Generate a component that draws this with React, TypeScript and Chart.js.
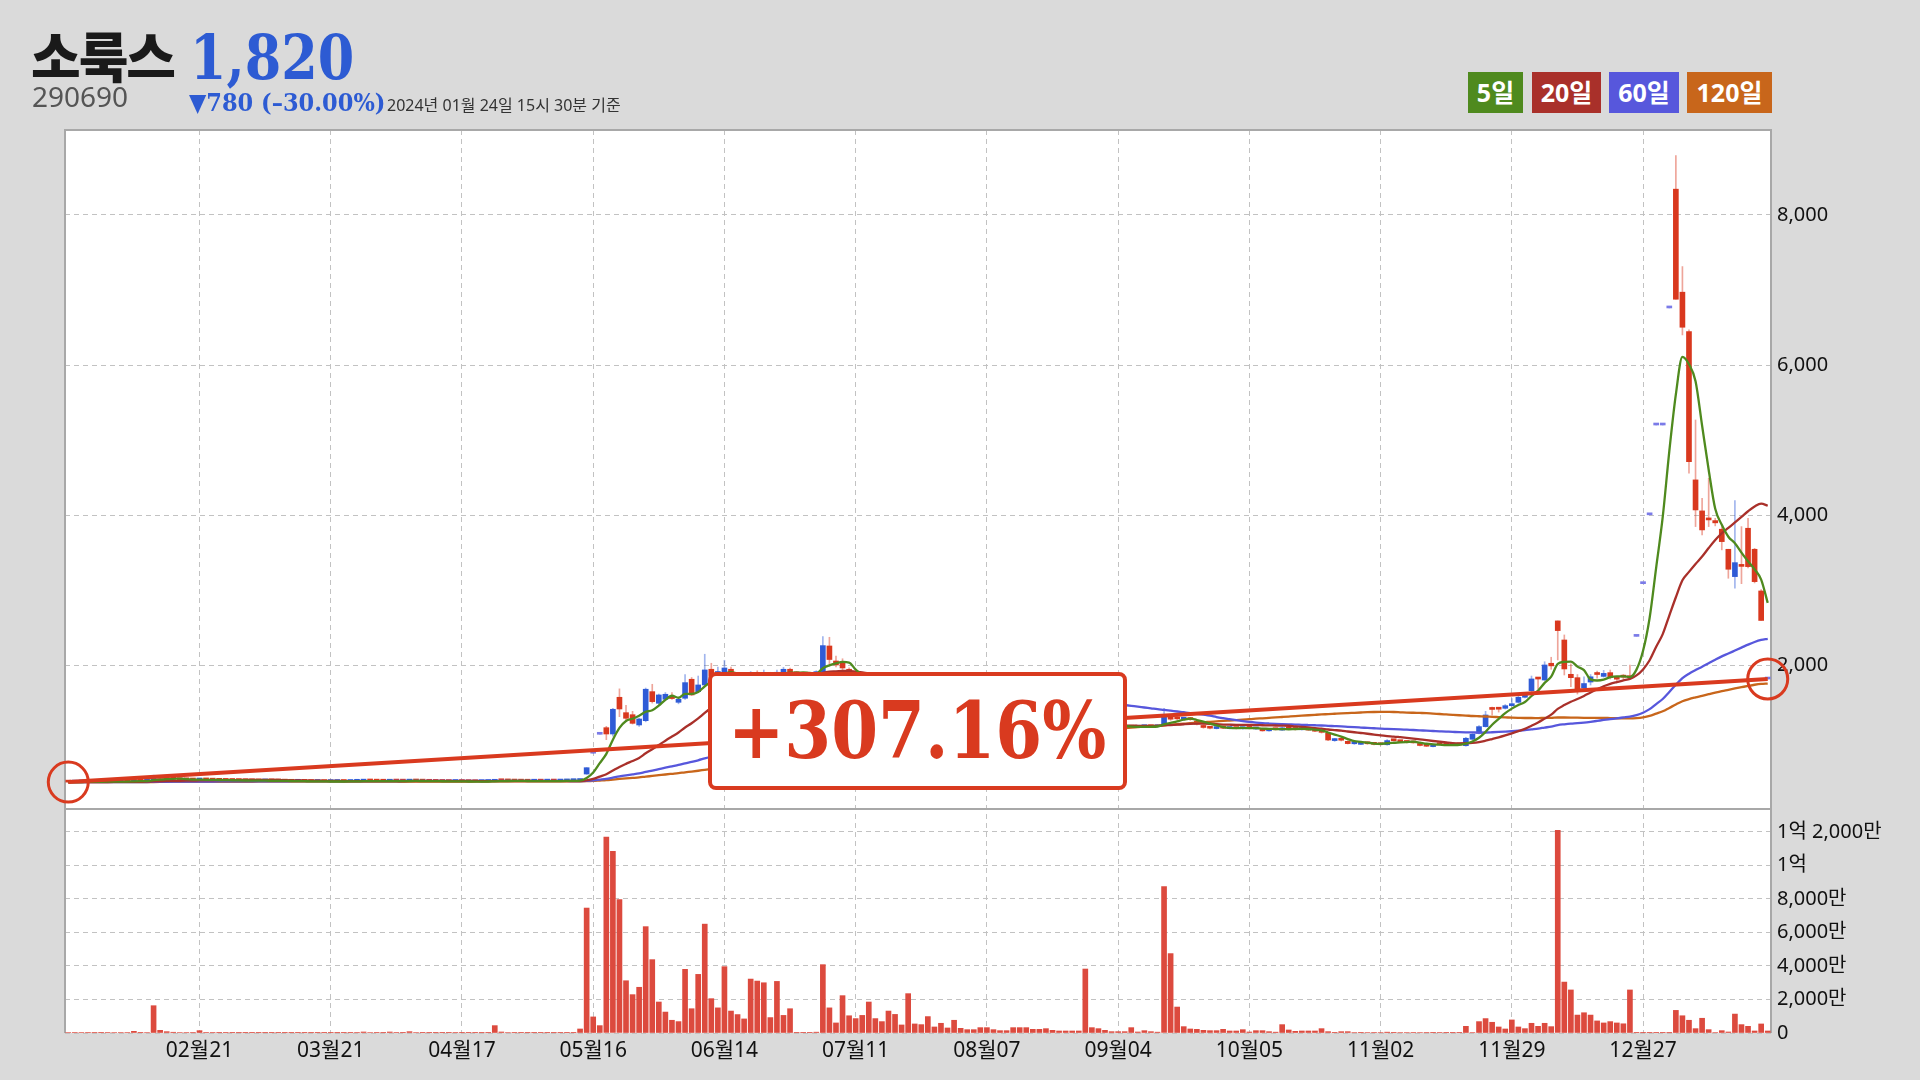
import React, { useEffect, useRef } from 'react';
import { Chart, registerables } from 'chart.js';

Chart.register(...registerables);

// ---------------- data ----------------
const stockName = '소룩스';
const stockCode = '290690';
const asOfText = '2024년 01월 24일 15시 30분 기준';

const tickLabelAt: Record<number, string> = {
  20: '02월21', 40: '03월21', 60: '04월17', 80: '05월16', 100: '06월14', 120: '07월11',
  140: '08월07', 160: '09월04', 180: '10월05', 200: '11월02', 220: '11월29', 240: '12월27',
};

const opens = [
  450,447,450,452,455,453,451,454,456,458,
  457,466,461,463,518,500,490,484,480,478,
  475,482,476,473,471,470,469,468,466,465,
  463,466,464,462,460,458,459,457,455,456,
  454,455,457,455,458,460,465,462,460,459,
  463,461,460,466,462,460,458,457,456,455,
  457,455,454,453,455,458,470,465,463,461,
  460,459,461,460,462,461,463,466,468,555,
  832,1084,1172,1088,1577,1372,1345,1208,1265,1652,
  1497,1550,1590,1510,1564,1817,1652,1741,1950,1860,
  1900,1950,1880,1840,1810,1900,1850,1890,1860,1900,
  1950,1910,1890,1880,1870,1918,2260,2060,2040,1950,
  1880,1790,1690,1560,1480,1420,1380,1330,1300,1370,
  1320,1290,1300,1270,1260,1250,1280,1260,1250,1232,
  1240,1230,1220,1210,1200,1210,1200,1185,1192,1200,
  1190,1178,1182,1172,1168,1180,1290,1250,1220,1200,
  1190,1178,1182,1178,1185,1190,1185,1208,1300,1300,
  1285,1295,1260,1200,1180,1160,1180,1160,1172,1158,
  1172,1155,1160,1130,1155,1140,1170,1155,1145,1158,
  1142,1140,1097,1000,1015,990,958,950,968,958,
  952,945,1002,995,990,975,950,935,920,950,
  945,938,945,932,1018,1097,1186,1425,1425,1430,
  1465,1510,1577,1665,1825,1807,2030,2594,2340,1883,
  1838,1700,1780,1885,1855,1905,1825,1860,1855,2388,
  3090,4007,5203,5203,6762,8344,6972,6447,4472,4059,
  3950,3930,3815,3548,3184,3340,3828,3548,2993,1820,
];

const highs = [
  455,452,456,458,460,457,456,459,462,463,
  470,470,466,540,528,505,494,488,484,482,
  490,485,480,477,475,474,473,472,470,469,
  468,470,468,466,464,462,463,461,459,460,
  458,459,461,460,463,470,468,466,464,470,
  466,465,472,469,466,464,462,461,460,460,
  461,459,458,457,460,480,474,469,467,465,
  464,463,465,464,466,466,468,470,480,640,
  832,1084,1190,1430,1689,1470,1390,1300,1700,1750,
  1620,1640,1640,1560,1880,1840,1860,2150,2030,1980,
  2070,1980,1900,1860,1920,1930,1940,1910,1940,1975,
  1965,1920,1900,1890,1930,2385,2376,2125,2090,1970,
  1900,1810,1720,1600,1510,1460,1400,1350,1420,1390,
  1335,1340,1310,1285,1270,1300,1285,1265,1255,1260,
  1250,1240,1230,1215,1230,1220,1210,1200,1215,1205,
  1195,1190,1185,1178,1185,1360,1310,1260,1230,1205,
  1195,1190,1195,1190,1200,1195,1210,1430,1340,1320,
  1310,1305,1270,1210,1185,1185,1190,1180,1178,1180,
  1178,1175,1165,1160,1160,1185,1175,1160,1165,1162,
  1150,1145,1105,1030,1025,998,972,978,975,962,
  958,1015,1010,1000,995,980,958,940,955,955,
  950,950,950,1045,1095,1200,1390,1445,1440,1480,
  1560,1610,1640,1860,1830,2050,2110,2594,2407,2021,
  1880,1850,1880,1925,1935,1940,1830,1880,2007,2388,
  3090,4007,5203,5203,6762,8790,7313,6470,5270,4228,
  4494,3960,3850,3548,4196,3850,3960,3560,3010,1820,
];

const lows = [
  445,444,447,449,451,449,448,451,452,454,
  455,458,457,460,495,486,480,476,474,472,
  472,474,470,468,467,466,465,464,462,461,
  460,462,460,458,456,455,455,453,452,452,
  451,452,453,452,455,457,459,458,456,456,
  458,457,457,460,458,456,454,453,452,452,
  453,451,450,449,452,455,462,460,459,457,
  456,455,457,456,458,458,460,462,465,550,
  832,1084,1012,1060,1319,1280,1220,1190,1250,1500,
  1480,1540,1550,1490,1550,1600,1640,1720,1840,1830,
  1880,1860,1810,1800,1800,1840,1840,1850,1850,1890,
  1900,1880,1870,1860,1860,1900,2000,1980,1940,1850,
  1780,1680,1540,1460,1400,1360,1310,1290,1290,1310,
  1280,1280,1260,1250,1240,1245,1250,1240,1230,1230,
  1220,1210,1200,1190,1195,1190,1180,1180,1185,1185,
  1175,1172,1165,1162,1165,1175,1240,1210,1195,1185,
  1175,1172,1170,1172,1180,1178,1180,1200,1270,1280,
  1275,1270,1210,1165,1155,1155,1160,1155,1155,1150,
  1155,1150,1125,1125,1140,1135,1150,1140,1140,1135,
  1120,1100,1000,990,995,955,950,945,950,942,
  940,940,990,980,970,965,930,920,915,940,
  935,935,935,925,1010,1090,1180,1340,1380,1420,
  1460,1500,1570,1650,1690,1800,1950,2074,1874,1718,
  1620,1660,1740,1830,1845,1820,1800,1820,1830,2388,
  3090,4007,5203,5203,6762,6878,6403,4560,3850,3739,
  3850,3860,3540,3162,3029,3090,3300,3100,2600,1820,
];

const closes = [
  447,450,452,455,453,451,454,456,458,457,
  466,461,463,520,500,490,484,480,478,475,
  482,476,473,471,470,469,468,466,465,463,
  466,464,462,460,458,459,457,455,456,454,
  455,457,455,458,460,465,462,460,459,463,
  461,460,466,462,460,458,457,456,455,457,
  455,454,453,455,458,470,465,463,461,460,
  459,461,460,462,461,463,466,468,475,639,
  832,1084,1088,1417,1421,1297,1230,1288,1684,1519,
  1608,1617,1560,1550,1772,1608,1741,1941,1857,1920,
  1967,1880,1840,1820,1890,1850,1900,1860,1910,1950,
  1910,1890,1880,1870,1918,2265,2080,2007,1967,1880,
  1800,1700,1560,1480,1420,1380,1330,1300,1380,1320,
  1290,1300,1270,1260,1250,1280,1260,1250,1240,1240,
  1230,1220,1210,1200,1210,1200,1190,1192,1200,1190,
  1180,1182,1170,1168,1180,1300,1250,1220,1200,1190,
  1180,1182,1178,1185,1190,1185,1200,1319,1285,1290,
  1295,1280,1220,1175,1165,1175,1165,1170,1160,1172,
  1162,1168,1130,1155,1145,1170,1155,1148,1158,1140,
  1125,1110,1008,1020,1005,960,965,970,958,950,
  945,1000,998,985,975,970,935,925,950,945,
  940,945,942,1031,1084,1186,1341,1415,1418,1465,
  1490,1577,1617,1821,1820,2007,1995,2465,1954,1838,
  1674,1760,1850,1880,1895,1838,1818,1845,1837,2388,
  3090,4007,5203,5203,6762,6878,6505,4715,4072,3806,
  3939,3900,3650,3282,3370,3320,3317,3117,2600,1820,
];

// volume, in 만주 (10,000 shares)
const volumes = [
  30,25,28,35,22,20,26,30,32,28,
  100,40,30,1630,160,80,45,30,28,25,
  140,35,25,20,22,18,20,15,18,16,
  20,18,15,14,16,14,12,15,14,12,
  15,18,16,20,25,60,30,22,20,60,
  25,20,80,30,20,18,15,14,15,25,
  18,15,14,16,20,440,60,30,22,18,
  15,16,14,15,14,16,18,20,240,7460,
  960,440,11700,10850,7960,3120,2290,2730,6350,4380,
  1850,1250,760,680,3800,1450,3500,6500,2050,1500,
  3960,1310,1100,840,3220,3100,3000,920,3080,1050,
  1450,40,20,20,50,4080,1500,600,2230,1030,
  860,1050,1850,860,680,1310,1110,480,2350,540,
  500,980,360,580,300,760,280,200,200,320,
  320,200,140,140,320,320,320,220,220,260,
  160,120,120,120,120,3820,320,260,160,80,
  80,80,320,60,140,80,50,8740,4740,1550,
  380,240,220,160,140,140,220,120,120,200,
  60,140,140,80,50,500,180,100,120,120,
  120,260,80,40,80,80,30,40,30,25,
  30,50,40,30,30,25,30,25,40,25,
  20,20,20,400,30,680,860,640,360,240,
  780,360,260,580,400,580,380,12100,3040,2570,
  1070,1210,1070,720,600,680,600,550,2570,10,
  10,10,10,10,10,1350,1030,760,260,880,
  200,30,140,60,1130,500,400,120,540,120,
];

const maPeriods = [5, 20, 60, 120];
const maLabels = ['5일', '20일', '60일', '120일'];
const maColors = ['#4f8a1e', '#a9302a', '#5757dc', '#c8661b'];

const priceTicks = [2000, 4000, 6000, 8000];
const volumeTicks = [0, 2000, 4000, 6000, 8000, 10000, 12000];

// axis ranges of the two stacked panels
const PRICE_MIN = 89;
const PRICE_MAX = 9132;
const VOL_MAX = 13373;
const PRICE_PANEL_WEIGHT = 679;
const VOL_PANEL_WEIGHT = 224;

// ---------------- styles ----------------
const UP = '#2f5bd6';
const DOWN = '#d9381e';
const FLAT = '#7b7be8';
const UP_WICK = 'rgba(47,91,214,0.45)';
const DOWN_WICK = 'rgba(217,56,30,0.45)';
const VOL_COLOR = '#dc4a3e';
const TREND = '#d93a1f';
const GRID = '#c2c2c2';
const SANS = "'Noto Sans', 'Noto Sans CJK KR', sans-serif";
const SERIF = "'DejaVu Serif Condensed', 'DejaVu Serif', serif";

function movingAverage(series: number[], period: number): number[] {
  return series.map((_, i) => {
    let sum = 0;
    for (let j = i - period + 1; j <= i; j++) sum += series[Math.max(j, 0)];
    return sum / period;
  });
}

function formatVolume(v: number): string {
  if (v === 0) return '0';
  const eok = Math.floor(v / 10000);
  const man = v % 10000;
  const parts: string[] = [];
  if (eok) parts.push(`${eok}억`);
  if (man) parts.push(`${man.toLocaleString('en-US')}만`);
  return parts.join(' ');
}

const framePlugin = {
  id: 'panelFrame',
  beforeDraw(chart: any) {
    const { ctx, chartArea: a } = chart;
    ctx.save();
    ctx.fillStyle = '#ffffff';
    ctx.fillRect(a.left, a.top, a.right - a.left, a.bottom - a.top);
    ctx.restore();
  },
  beforeDatasetsDraw(chart: any) {
    const { ctx, chartArea: a, scales } = chart;
    const sepY = scales.yv.top;
    ctx.save();
    ctx.strokeStyle = '#a8a8a8';
    ctx.lineWidth = 2;
    ctx.beginPath();
    ctx.moveTo(a.left, a.bottom);
    ctx.lineTo(a.left, a.top);
    ctx.lineTo(a.right, a.top);
    ctx.lineTo(a.right, a.bottom);
    ctx.stroke();
    ctx.beginPath();
    ctx.moveTo(a.left, sepY);
    ctx.lineTo(a.right, sepY);
    ctx.stroke();
    ctx.restore();
  },
};

export default function App() {
  const canvasRef = useRef<HTMLCanvasElement | null>(null);

  const n = closes.length;
  const last = closes[n - 1];
  const prev = closes[n - 2];
  const diff = last - prev;
  const diffPct = (diff / prev) * 100;
  const periodPct = (last / closes[0] - 1) * 100;

  useEffect(() => {
    if (!canvasRef.current) return;
    const labels = closes.map((_, i) => String(i));
    const bodyData = opens.map((o, i) => [o, closes[i]]);
    const wickData = lows.map((l, i) => [l, highs[i]]);
    const bodyColors = opens.map((o, i) => (closes[i] > o ? UP : closes[i] < o ? DOWN : FLAT));
    const wickColors = opens.map((o, i) => (closes[i] >= o ? UP_WICK : DOWN_WICK));
    const trendData = closes.map((c, i) => (i === 0 || i === n - 1 ? c : null));

    const maSets = maPeriods.map((p, k) => ({
      type: 'line' as const,
      label: maLabels[k],
      data: movingAverage(closes, p),
      borderColor: maColors[k],
      borderWidth: 2.3,
      pointRadius: 0,
      cubicInterpolationMode: 'monotone' as const,
      yAxisID: 'y',
      order: 4 + k,
    }));

    const chart = new Chart(canvasRef.current, {
      type: 'bar',
      data: {
        labels,
        datasets: [
          {
            type: 'bar',
            label: 'volume',
            data: volumes,
            backgroundColor: VOL_COLOR,
            barThickness: 5,
            grouped: false,
            yAxisID: 'yv',
            order: 12,
          } as any,
          {
            type: 'bar',
            label: 'wick',
            data: wickData,
            backgroundColor: wickColors,
            barThickness: 1,
            grouped: false,
            yAxisID: 'y',
            order: 11,
          } as any,
          {
            type: 'bar',
            label: 'body',
            data: bodyData,
            backgroundColor: bodyColors,
            barThickness: 5,
            minBarLength: 2,
            grouped: false,
            yAxisID: 'y',
            order: 10,
          } as any,
          ...maSets,
          {
            type: 'line',
            label: 'trend',
            data: trendData,
            borderColor: TREND,
            borderWidth: 4,
            spanGaps: true,
            pointRadius: (ctx: any) => (ctx.raw == null ? 0 : 20),
            pointBorderWidth: 3,
            pointBorderColor: TREND,
            pointBackgroundColor: 'rgba(0,0,0,0)',
            clip: false,
            yAxisID: 'y',
            order: 1,
          } as any,
        ],
      },
      options: {
        animation: false,
        responsive: false,
        devicePixelRatio: 1,
        events: [],
        layout: { padding: { left: 65, top: 130, right: 0, bottom: 0 } },
        plugins: { legend: { display: false }, tooltip: { enabled: false } },
        scales: {
          x: {
            type: 'category',
            offset: true,
            grid: {
              offset: false,
              drawTicks: false,
              lineWidth: 1,
              color: (ctx: any) => (tickLabelAt[ctx.index] ? GRID : 'rgba(0,0,0,0)'),
            },
            border: { display: false, dash: [5, 4] },
            ticks: {
              autoSkip: false,
              maxRotation: 0,
              minRotation: 0,
              padding: 5,
              color: '#111',
              font: { family: SANS, size: 21 },
              callback: (_v: any, i: number) => tickLabelAt[i] ?? '',
            },
            afterFit: (s: any) => { s.height = 47; },
          },
          y: {
            position: 'right',
            stack: 'panels',
            stackWeight: PRICE_PANEL_WEIGHT,
            weight: 0,
            min: PRICE_MIN,
            max: PRICE_MAX,
            afterBuildTicks: (s: any) => { s.ticks = priceTicks.map((v) => ({ value: v })); },
            grid: { drawTicks: false, color: GRID, lineWidth: 1 },
            border: { display: false, dash: [5, 4] },
            ticks: {
              autoSkip: false,
              padding: 6,
              color: '#111',
              font: { family: SANS, size: 20 },
              callback: (v: any) => Number(v).toLocaleString('en-US'),
            },
            afterFit: (s: any) => { s.width = 149; },
          },
          yv: {
            position: 'right',
            stack: 'panels',
            stackWeight: VOL_PANEL_WEIGHT,
            weight: 1,
            min: 0,
            max: VOL_MAX,
            afterBuildTicks: (s: any) => { s.ticks = volumeTicks.map((v) => ({ value: v })); },
            grid: { drawTicks: false, color: GRID, lineWidth: 1 },
            border: { display: false, dash: [5, 4] },
            ticks: {
              autoSkip: false,
              padding: 6,
              color: '#111',
              font: { family: SANS, size: 20 },
              callback: (v: any) => formatVolume(Number(v)),
            },
            afterFit: (s: any) => { s.width = 149; },
          },
        },
      } as any,
      plugins: [framePlugin],
    });
    return () => chart.destroy();
  }, []);

  const abs: React.CSSProperties = { position: 'absolute', whiteSpace: 'nowrap', lineHeight: 1, margin: 0 };
  const legendBoxes = [
    { left: 1468, width: 55 },
    { left: 1532, width: 69 },
    { left: 1609, width: 70 },
    { left: 1687, width: 85 },
  ];

  return (
    <div style={{ position: 'absolute', left: 0, top: 0, width: 1920, height: 1080, background: '#dadada', overflow: 'hidden' }}>
      <canvas ref={canvasRef} width={1920} height={1080} style={{ position: 'absolute', left: 0, top: 0, width: 1920, height: 1080 }} />

      <div style={{ ...abs, left: 31, top: 28, fontFamily: "'Noto Sans CJK KR', sans-serif", fontWeight: 900, fontSize: 54, color: '#1a1a1a', letterSpacing: -2 }}>
        {stockName}
      </div>
      <div style={{ ...abs, left: 190, top: 27, fontFamily: SERIF, fontStretch: 'condensed', fontWeight: 700, fontSize: 62, color: '#2d5bd3', transform: 'scaleX(0.94)', transformOrigin: 'left top' }}>
        {last.toLocaleString('en-US')}
      </div>
      <div style={{ ...abs, left: 32, top: 82, fontFamily: SANS, fontSize: 28, color: '#555' }}>{stockCode}</div>
      <div style={{ ...abs, left: 189, top: 90, fontFamily: SERIF, fontStretch: 'condensed', fontWeight: 700, fontSize: 25, color: '#2d5bd3' }}>
        {`${diff < 0 ? '▼' : '▲'}${Math.abs(diff).toLocaleString('en-US')} (${diff < 0 ? '–' : '+'}${Math.abs(diffPct).toFixed(2)}%)`}
      </div>
      <div style={{ ...abs, left: 387, top: 97, fontFamily: SANS, fontSize: 16, color: '#333' }}>{asOfText}</div>

      {maLabels.map((lab, k) => (
        <div
          key={lab}
          style={{
            position: 'absolute', left: legendBoxes[k].left, top: 72, width: legendBoxes[k].width, height: 41,
            background: maColors[k], color: '#fff', fontFamily: SANS, fontWeight: 700, fontSize: 25,
            display: 'flex', alignItems: 'center', justifyContent: 'center', lineHeight: 1,
          }}
        >
          {lab}
        </div>
      ))}

      <div
        style={{
          position: 'absolute', left: 708, top: 672, width: 419, height: 118, boxSizing: 'border-box',
          border: `4px solid ${TREND}`, borderRadius: 8, background: '#fff',
          display: 'flex', alignItems: 'center', justifyContent: 'center',
        }}
      >
        <span style={{ fontFamily: SERIF, fontStretch: 'condensed', fontWeight: 700, fontSize: 78, color: TREND, lineHeight: 1, display: 'inline-block', transform: 'scaleX(0.96)' }}>
          {`${periodPct >= 0 ? '+' : ''}${periodPct.toFixed(2)}%`}
        </span>
      </div>
    </div>
  );
}
